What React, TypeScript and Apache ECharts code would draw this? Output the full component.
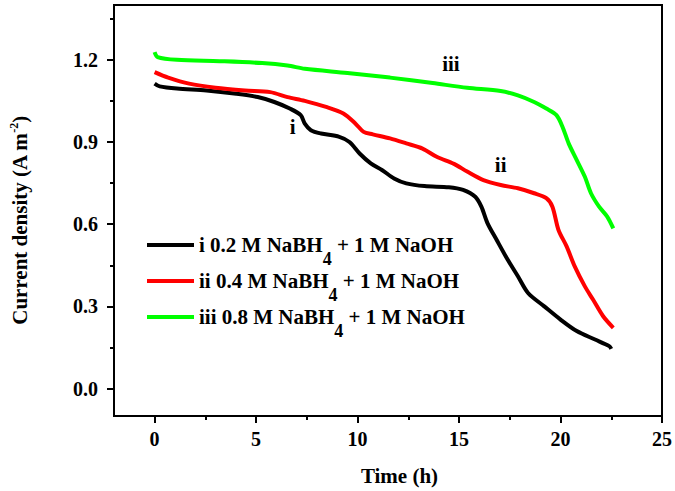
import React, { useEffect, useRef } from "react";
import * as echarts from "echarts";

const timeBlack = [0, 0.25, 1.1, 2.56, 4.03, 5.08, 5.9, 6.66, 7.2, 7.4, 7.7, 8.2, 9.1, 9.6, 10.1, 10.65, 11.2, 11.8, 12.4, 13.3, 14.5, 15.2, 15.8, 16.1, 16.4, 16.85, 17.4, 17.9, 18.4, 19.2, 20.0, 20.8, 21.7, 22.4, 22.5];
const valBlack = [1.113, 1.103, 1.095, 1.088, 1.076, 1.064, 1.046, 1.022, 0.998, 0.967, 0.943, 0.931, 0.919, 0.9, 0.858, 0.822, 0.798, 0.767, 0.749, 0.739, 0.735, 0.725, 0.7, 0.664, 0.604, 0.543, 0.47, 0.41, 0.349, 0.3, 0.252, 0.21, 0.179, 0.155, 0.145];

const timeRed = [0, 0.67, 1.7, 3.0, 4.45, 5.7, 6.55, 7.4, 8.45, 9.3, 9.9, 10.3, 10.75, 11.6, 12.4, 13.2, 13.9, 14.75, 15.4, 16.2, 17.05, 17.9, 18.7, 19.3, 19.6, 19.9, 20.3, 20.7, 21.2, 21.6, 22.1, 22.6];
const valRed = [1.155, 1.135, 1.113, 1.098, 1.088, 1.082, 1.064, 1.05, 1.028, 1.004, 0.967, 0.937, 0.928, 0.913, 0.895, 0.876, 0.846, 0.82, 0.792, 0.761, 0.743, 0.731, 0.713, 0.695, 0.664, 0.579, 0.519, 0.446, 0.373, 0.325, 0.264, 0.222];

const timeGreen = [0, 0.15, 1.1, 3.2, 5.3, 6.55, 7.4, 9.5, 11.6, 13.7, 15.4, 17.05, 17.9, 18.7, 19.3, 19.8, 20.1, 20.4, 20.8, 21.2, 21.5, 21.9, 22.3, 22.6];
const valGreen = [1.228, 1.21, 1.2, 1.195, 1.188, 1.179, 1.167, 1.152, 1.135, 1.115, 1.098, 1.086, 1.07, 1.046, 1.022, 0.998, 0.955, 0.895, 0.834, 0.773, 0.713, 0.664, 0.628, 0.585];

const seriesNames = ["i 0.2 M NaBH4 + 1 M NaOH", "ii 0.4 M NaBH4 + 1 M NaOH", "iii 0.8 M NaBH4 + 1 M NaOH"];
const seriesColors = ["#000000", "#ff0000", "#00ff00"];
const curveLabels = ["i", "ii", "iii"];
const labelPositions = [[6.8, 0.955], [17.05, 0.816], [14.6, 1.185]];

const xMajorTicks = [0, 5, 10, 15, 20, 25];
const xMinorTicks = [2.5, 7.5, 12.5, 17.5, 22.5];
const yMajorTicks = [0, 0.3, 0.6, 0.9, 1.2];
const yMinorTicks = [0.15, 0.45, 0.75, 1.05, 1.35];

const FONT = "Liberation Serif";

function pairs(t: number[], v: number[]) {
  return t.map((x, i) => [x, v[i]]);
}

export default function App() {
  const ref = useRef<HTMLDivElement>(null);
  useEffect(() => {
    document.body.style.margin = "0";
    if (!ref.current) return;
    const chart = echarts.init(ref.current, null, { renderer: "svg" });
    const datasets = [pairs(timeBlack, valBlack), pairs(timeRed, valRed), pairs(timeGreen, valGreen)];
    const baseX = {
      type: "value",
      min: -2,
      max: 25,
      position: "bottom",
      splitLine: { show: false },
    };
    const baseY = {
      type: "value",
      min: -0.1,
      max: 1.4,
      position: "left",
      splitLine: { show: false },
    };
    chart.setOption({
      animation: false,
      backgroundColor: "#ffffff",
      grid: {
        left: 109,
        right: 12,
        top: 5,
        bottom: 73,
        show: true,
        borderColor: "#000",
        borderWidth: 2,
        backgroundColor: "transparent",
      },
      xAxis: [
        {
          ...baseX,
          name: "Time (h)",
          nameLocation: "middle",
          nameGap: 49,
          nameTextStyle: { fontFamily: FONT, fontWeight: "bold", fontSize: 21, color: "#000", padding: [0, 0, 0, 23] },
          axisLine: { show: true, onZero: false, lineStyle: { color: "#000", width: 2 } },
          axisTick: { show: true, customValues: xMajorTicks, length: 7, lineStyle: { color: "#000", width: 2 } },
          axisLabel: {
            customValues: xMajorTicks,
            margin: 13,
            fontFamily: FONT,
            fontWeight: "bold",
            fontSize: 20,
            color: "#000",
          },
        },
        {
          ...baseX,
          axisLine: { show: false, onZero: false },
          axisTick: { show: true, customValues: xMinorTicks, length: 4, lineStyle: { color: "#000", width: 2 } },
          axisLabel: { show: false },
        },
      ],
      yAxis: [
        {
          ...baseY,
          name: "Current density (A m{sup|-2})",
          nameLocation: "middle",
          nameRotate: 90,
          nameGap: 82,
          nameTextStyle: {
            fontFamily: FONT,
            fontWeight: "bold",
            fontSize: 21,
            color: "#000",
            padding: [0, 20, 0, 0],
            rich: {
              sup: { fontFamily: FONT, fontWeight: "bold", fontSize: 12, color: "#000", padding: [0, 0, 12, 0] },
            },
          },
          axisLine: { show: true, onZero: false, lineStyle: { color: "#000", width: 2 } },
          axisTick: { show: true, customValues: yMajorTicks, length: 7, lineStyle: { color: "#000", width: 2 } },
          axisLabel: {
            customValues: yMajorTicks,
            margin: 16,
            fontFamily: FONT,
            fontWeight: "bold",
            fontSize: 20,
            color: "#000",
            formatter: (v: number) => v.toFixed(1),
          },
        },
        {
          ...baseY,
          axisLine: { show: false, onZero: false },
          axisTick: { show: true, customValues: yMinorTicks, length: 4, lineStyle: { color: "#000", width: 2 } },
          axisLabel: { show: false },
        },
      ],
      legend: {
        orient: "vertical",
        left: 147,
        top: 222,
        padding: 0,
        icon: "rect",
        itemWidth: 47,
        itemHeight: 4,
        itemGap: -10,
        data: seriesNames,
        formatter: (name: string) => name.replace("NaBH4", "NaBH{sub|4}"),
        textStyle: {
          fontFamily: FONT,
          fontWeight: "bold",
          fontSize: 21,
          color: "#000",
          rich: {
            sub: { fontFamily: FONT, fontWeight: "bold", fontSize: 18, lineHeight: 18, color: "#000", padding: [28, 0, 0, 0] },
          },
        },
      },
      series: seriesNames.map((name, i) => ({
        name,
        type: "line",
        xAxisIndex: 0,
        yAxisIndex: 0,
        data: datasets[i],
        showSymbol: false,
        smooth: 0.3,
        lineStyle: { color: seriesColors[i], width: 4 },
        itemStyle: { color: seriesColors[i] },
        markPoint: {
          symbol: "circle",
          symbolSize: 0,
          label: {
            show: true,
            position: "inside",
            formatter: curveLabels[i],
            fontFamily: FONT,
            fontWeight: "bold",
            fontSize: 21,
            color: "#000",
          },
          data: [{ coord: labelPositions[i] }],
        },
      })),
    });
    return () => chart.dispose();
  }, []);
  return <div ref={ref} style={{ width: 675, height: 491 }} />;
}
